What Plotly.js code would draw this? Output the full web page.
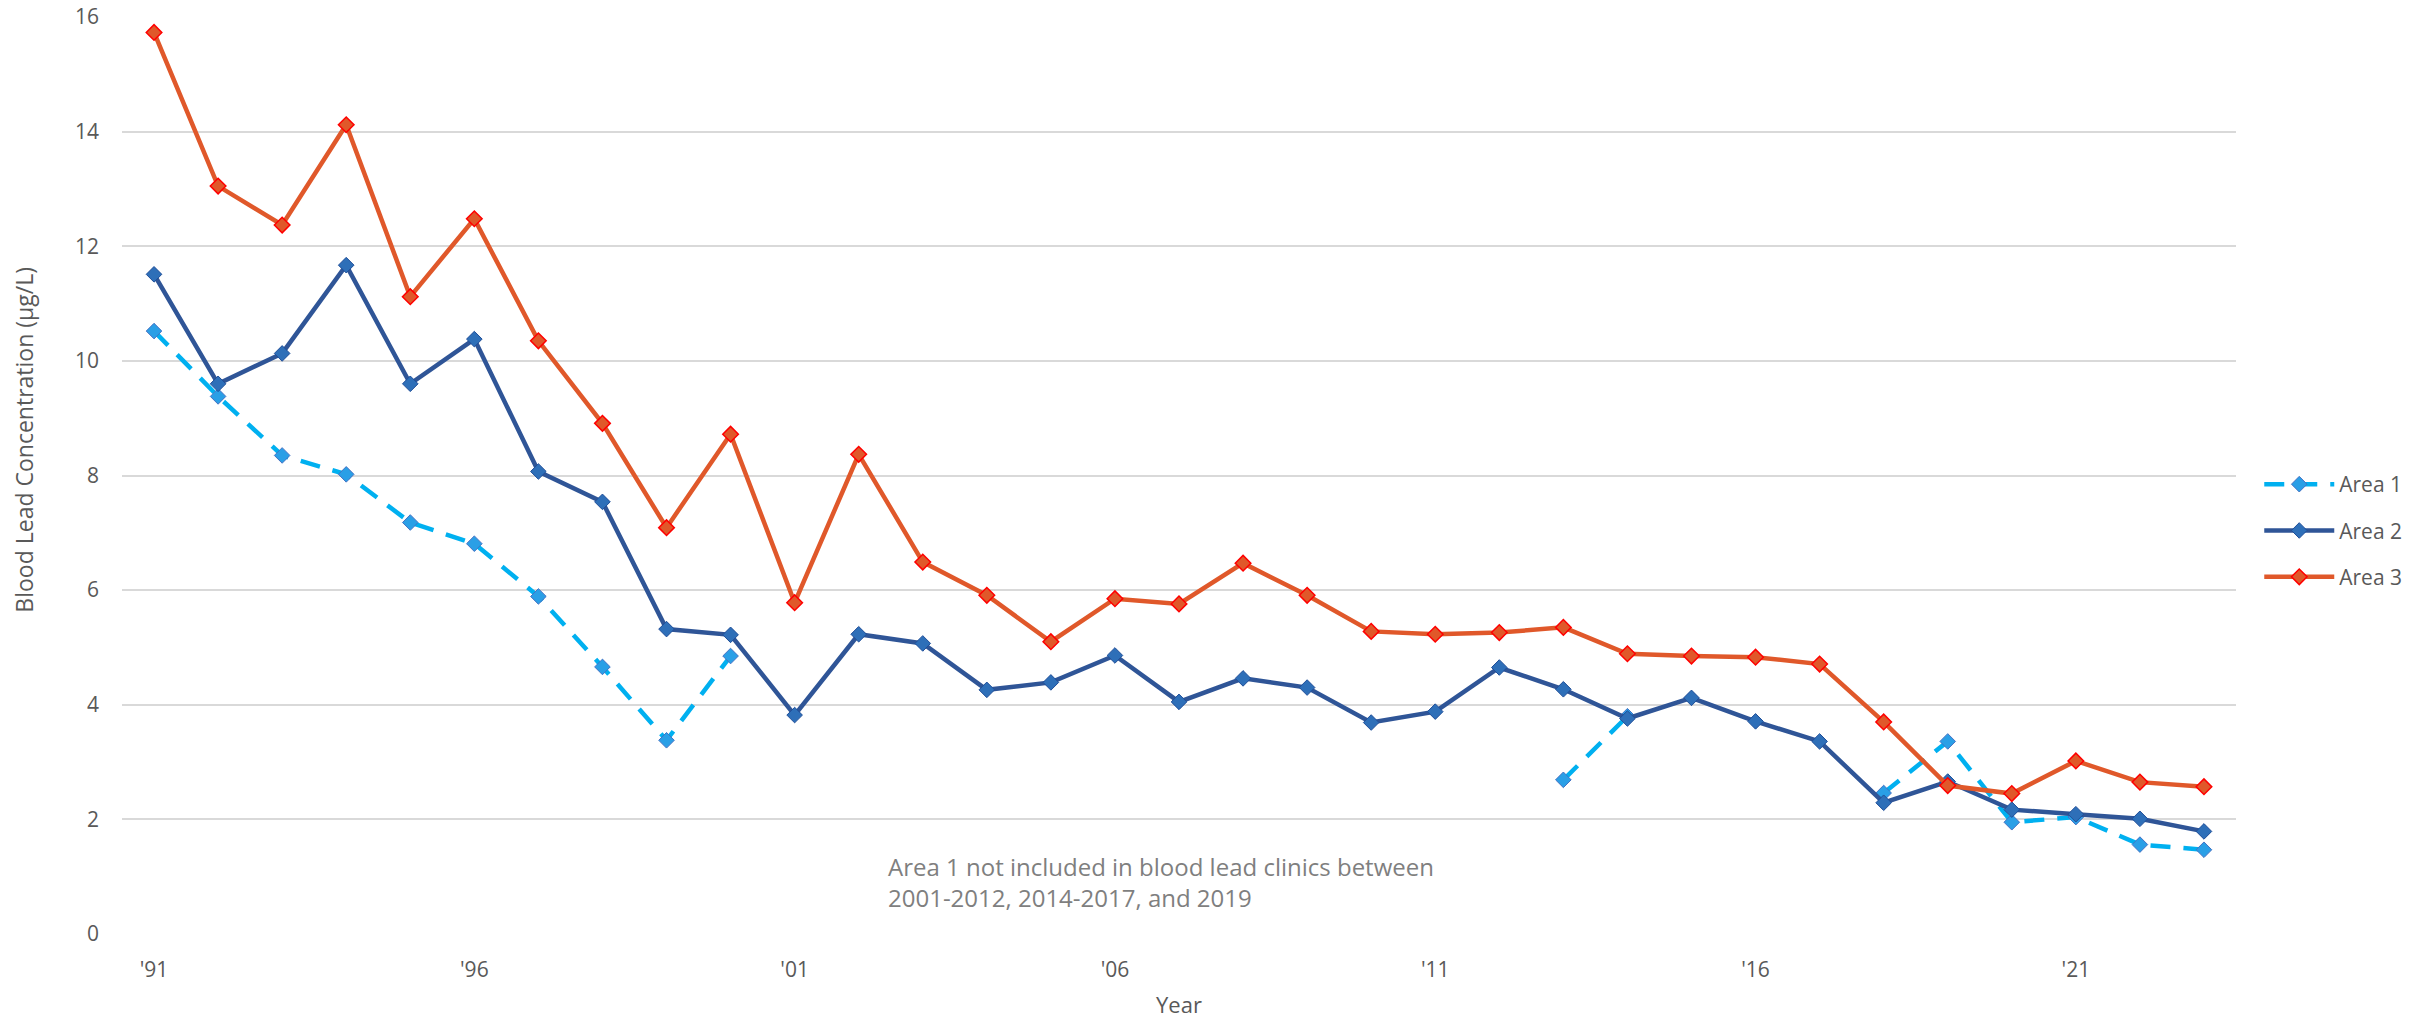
<!DOCTYPE html>
<html>
<head>
<meta charset="utf-8">
<script src="https://cdn.plot.ly/plotly-3.0.1.min.js"></script>
<style>
  html, body { margin: 0; padding: 0; background: #ffffff; }
  #chart { width: 2432px; height: 1019px; }
</style>
</head>
<body>
<div id="chart"></div>
<script>
const years = [1991,1992,1993,1994,1995,1996,1997,1998,1999,2000,2001,2002,2003,2004,2005,2006,2007,2008,2009,2010,2011,2012,2013,2014,2015,2016,2017,2018,2019,2020,2021,2022,2023];

const area1 = [10.52,9.38,8.35,8.02,7.18,6.81,5.89,4.66,3.38,4.85,null,null,null,null,null,null,null,null,null,null,null,null,2.69,3.80,null,null,null,2.46,3.36,1.95,2.04,1.56,1.47];
const area2 = [11.51,9.60,10.13,11.67,9.60,10.38,8.07,7.54,5.32,5.22,3.82,5.23,5.07,4.26,4.39,4.86,4.05,4.46,4.30,3.69,3.88,4.65,4.27,3.76,4.12,3.71,3.36,2.29,2.66,2.17,2.09,2.01,1.79];
const area3 = [15.73,13.05,12.37,14.12,11.12,12.48,10.35,8.91,7.09,8.72,5.78,8.37,6.49,5.91,5.10,5.85,5.76,6.47,5.91,5.28,5.23,5.26,5.35,4.89,4.85,4.83,4.71,3.70,2.59,2.45,3.02,2.65,2.57];

const tickYears = [1991,1996,2001,2006,2011,2016,2021];
const tickLabels = ["'91","'96","'01","'06","'11","'16","'21"];
const yTicks = [0,2,4,6,8,10,12,14,16];

const seriesNames = ["Area 1","Area 2","Area 3"];
const noteText = "Area 1 not included in blood lead clinics between<br>2001-2012, 2014-2017, and 2019";
const yTitle = "Blood Lead Concentration (µg/L)";
const xTitle = "Year";

const FONT = "Open Sans, sans-serif";
const GRAY = "#595959";

const traces = [
  {
    x: years, y: area1, name: seriesNames[0], type: "scatter", mode: "lines+markers",
    connectgaps: false, legendgroup: "a1",
    line: { color: "#00B0F0", width: 4.5, dash: "20px,13px" },
    marker: { symbol: "diamond", size: 12, color: "#2A9FE6", line: { color: "#4472C4", width: 1 } }
  },
  {
    x: years, y: area2, name: seriesNames[1], type: "scatter", mode: "lines+markers",
    legendgroup: "a2",
    line: { color: "#2F5597", width: 4.5 },
    marker: { symbol: "diamond", size: 12, color: "#2E6FB8", line: { color: "#1F4E99", width: 1 } }
  },
  {
    x: years, y: area3, name: seriesNames[2], type: "scatter", mode: "lines+markers",
    legendgroup: "a3",
    line: { color: "#E0582A", width: 4.5 },
    marker: { symbol: "diamond", size: 12, color: "#E0582A", line: { color: "#FF0000", width: 1.5 } }
  }
];

const layout = {
  width: 2432, height: 1019,
  paper_bgcolor: "#ffffff", plot_bgcolor: "#ffffff",
  margin: { l: 122, r: 196, t: 17, b: 85 },
  font: { family: FONT, color: GRAY, size: 21 },
  showlegend: true,
  legend: {
    x: 1.011, xanchor: "left", y: 0.44, yanchor: "middle",
    font: { family: FONT, size: 21, color: GRAY },
    traceorder: "grouped", tracegroupgap: 16,
    itemwidth: 70, bgcolor: "rgba(0,0,0,0)"
  },
  xaxis: {
    range: [1990.5, 2023.5],
    tickmode: "array", tickvals: tickYears, ticktext: tickLabels,
    showgrid: false, zeroline: false, showline: false,
    ticks: "", ticklabelstandoff: 21,
    tickfont: { family: FONT, size: 21, color: GRAY },
    title: { text: xTitle, font: { family: FONT, size: 22, color: GRAY }, standoff: 18 }
  },
  yaxis: {
    range: [0, 16],
    tickmode: "array", tickvals: yTicks,
    showgrid: true, gridcolor: "#D9D9D9", gridwidth: 2,
    zeroline: false, showline: false, ticks: "", ticklabelstandoff: 22,
    tickfont: { family: FONT, size: 21, color: GRAY }
  },
  annotations: [
    {
      text: yTitle, xref: "paper", yref: "paper",
      x: -0.0464, y: 0.539, xanchor: "center", yanchor: "middle",
      textangle: -90, showarrow: false,
      font: { family: FONT, size: 23, color: GRAY }
    },
    {
      text: noteText, xref: "paper", yref: "paper",
      x: 0.3614, y: 0.094, xanchor: "left", yanchor: "top", align: "left",
      showarrow: false,
      font: { family: FONT, size: 24, color: "#7F7F7F" }
    }
  ]
};

Plotly.newPlot("chart", traces, layout, { displayModeBar: false, staticPlot: true });
</script>
</body>
</html>
